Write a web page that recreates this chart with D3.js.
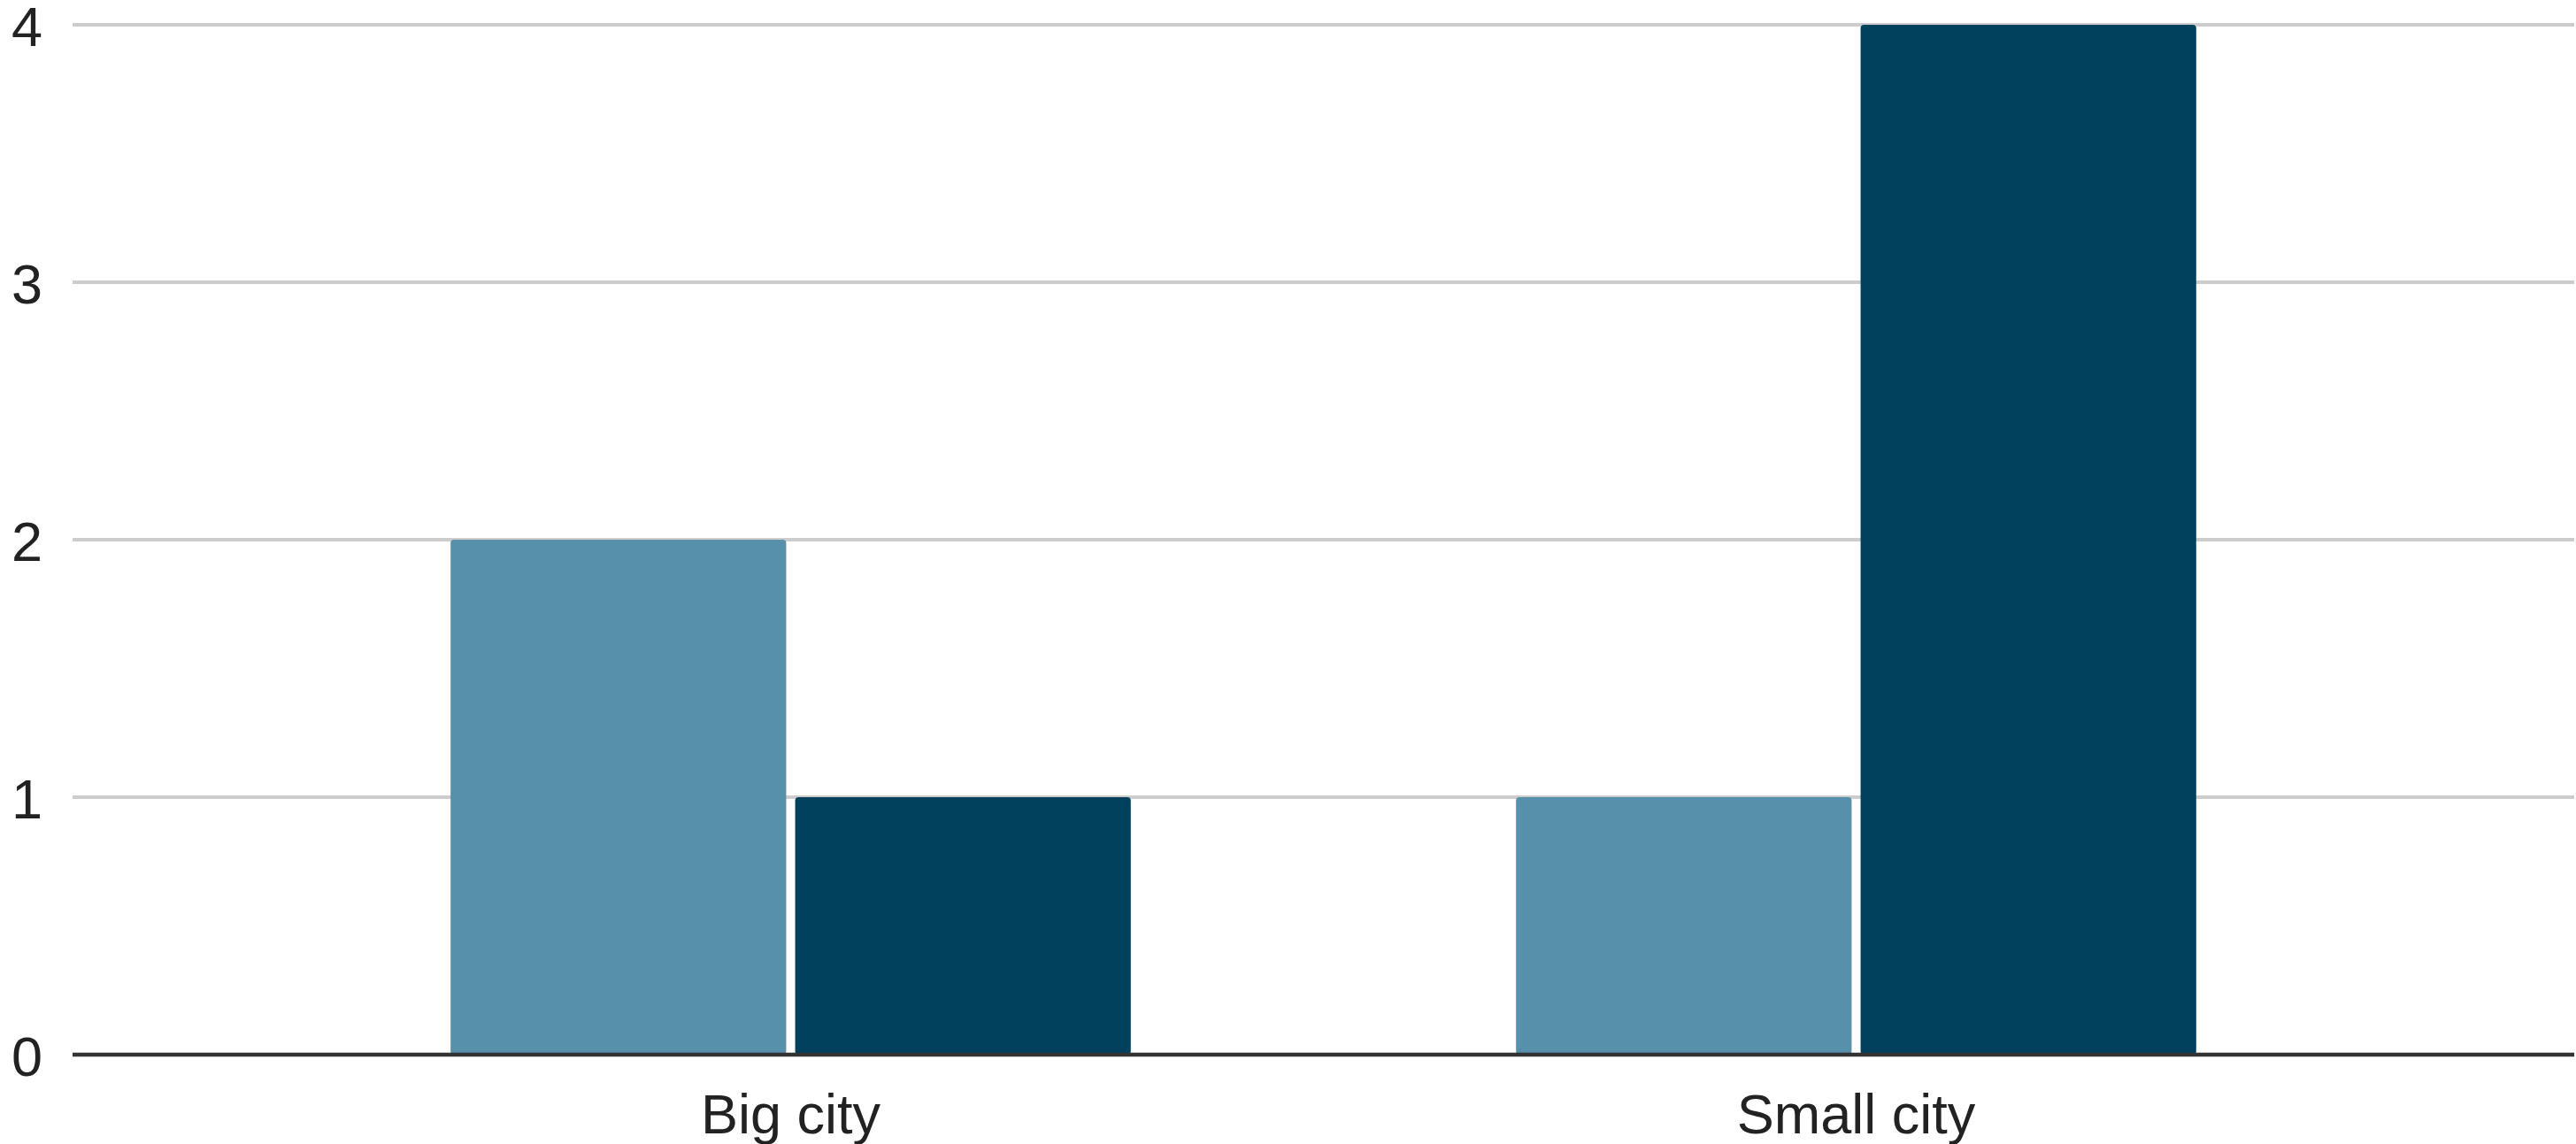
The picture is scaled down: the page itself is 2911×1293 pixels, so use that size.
<!DOCTYPE html>
<html>
<head>
<meta charset="utf-8">
<script src="https://cdn.jsdelivr.net/npm/d3@7"></script>
<style>
  body { margin: 0; background: #fff; }
  svg { display: block; font-family: "Liberation Sans", Arial, sans-serif; }
</style>
</head>
<body>
<svg id="chart"></svg>
<script>
// chart data
const categories = ['Big city', 'Small city'];
const seriesNames = ['Series A', 'Series B'];
const seriesA = [2, 1];
const seriesB = [1, 4];
const yTicks = [0, 1, 2, 3, 4];

const colors = ['#5790ab', '#02415e'];

const width = 2911, height = 1293;
// plot area bounds
const plotLeft = 82, plotRight = 2909, plotTop = 28, plotBottom = 1192;
const fontSize = 63;

var svg = d3.select('#chart')
    .attr('width', width)
    .attr('height', height);

// scales
const x0 = d3.scaleBand().domain(categories).range([plotLeft, plotRight])
    .paddingInner(0.3616).paddingOuter(0.3548);
const x1 = d3.scaleBand().domain(seriesNames).range([0, x0.bandwidth()])
    .paddingInner(0.026);
const y = d3.scaleLinear().domain([0, 4]).range([plotBottom, plotTop]);

// build rows for the grouped bars
var rows = [];
categories.forEach((c, i) => {
    rows.push({cat: c, key: seriesNames[0], value: seriesA[i]});
    rows.push({cat: c, key: seriesNames[1], value: seriesB[i]});
});

// gridlines
svg.append('g')
    .selectAll('line')
    .data(yTicks.filter(d => d > 0))
    .enter()
    .append('line')
    .attr('x1', plotLeft)
    .attr('x2', plotRight)
    .attr('y1', d => y(d))
    .attr('y2', d => y(d))
    .attr('stroke', '#cccccc')
    .attr('stroke-width', 4);

// bars
svg.append('g')
    .selectAll('rect')
    .data(rows)
    .enter()
    .append('rect')
    .attr('x', d => x0(d.cat) + x1(d.key))
    .attr('y', d => y(d.value))
    .attr('width', x1.bandwidth())
    .attr('height', d => y(0) - y(d.value))
    .attr('rx', 4)
    .attr('fill', d => colors[seriesNames.indexOf(d.key)]);

// baseline
svg.append('line')
    .attr('x1', plotLeft)
    .attr('x2', plotRight)
    .attr('y1', y(0))
    .attr('y2', y(0))
    .attr('stroke', '#333333')
    .attr('stroke-width', 4.5);

// y axis labels
const yAxis = d3.axisLeft(y).tickValues(yTicks).tickFormat(d3.format('d')).tickSize(0).tickPadding(0);
svg.append('g')
    .attr('transform', 'translate(48,0)')
    .call(yAxis)
    .call(g => g.select('.domain').remove())
    .call(g => g.selectAll('text')
        .attr('dy', '0.37em')
        .attr('font-size', fontSize)
        .attr('font-family', '"Liberation Sans", Arial, sans-serif')
        .attr('fill', '#222'));

// x axis labels
const xAxis = d3.axisBottom(x0).tickSize(0).tickPadding(0);
svg.append('g')
    .attr('transform', 'translate(0,' + 1281 + ')')
    .call(xAxis)
    .call(g => g.select('.domain').remove())
    .call(g => g.selectAll('text')
        .attr('dy', 0)
        .attr('font-size', fontSize)
        .attr('font-family', '"Liberation Sans", Arial, sans-serif')
        .attr('fill', '#222'));
</script>
</body>
</html>
